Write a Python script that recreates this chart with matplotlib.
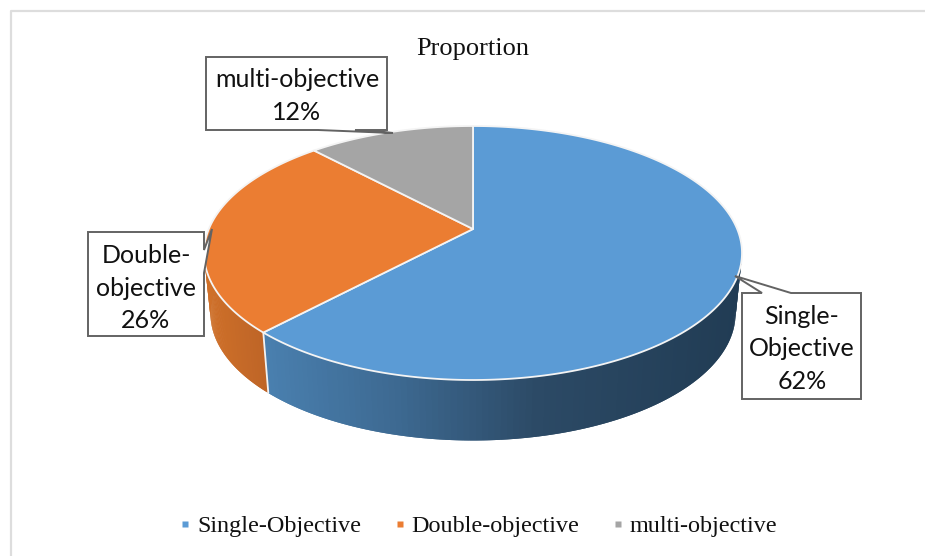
import numpy as np
import matplotlib
matplotlib.use("Agg")
import matplotlib.pyplot as plt
from matplotlib.lines import Line2D
from matplotlib.patches import Polygon
from matplotlib.colors import to_rgb

categories = ["Single-Objective", "Double-objective", "multi-objective"]
values = [62, 26, 12]
callout_text = ["Single-\nObjective\n62%", "Double-\nobjective\n26%", "multi-objective\n12%"]
title = "Proportion"
colors = ["#5B9BD5", "#EB7D32", "#A5A5A5"]
wall_stops = [
    ([263, 400, 540, 742], ["#4A80B0", "#3D6991", "#2C4A66", "#213C54"]),
    ([205, 268], ["#CF7029", "#BD6427"]),
    ([315, 473], ["#8A8A8A", "#8A8A8A"]),
]

W, H = 925, 556
fig = plt.figure(figsize=(W / 100, H / 100), dpi=100)
ax = fig.add_axes([0, 0, 1, 1])
ax.set_xlim(0, W)
ax.set_ylim(H, 0)
ax.axis("off")

ax.plot([10.5, 10.5, W], [H, 11, 11], color="#DDDDDD", lw=1.6, zorder=0)

# projection of a tilted disc
CX, CY = 473, 229
K = 48 / 254
AY = 103 * (1 + K)
CW = 269 * np.sqrt(1 - K ** 2)
DEPTH = 60.5
SHRINK = 0.976


def top(theta):
    u, v = np.sin(theta), np.cos(theta)
    d = 1 + K * v
    return CX + CW * u / d, CY - AY * v / d


def bottom(theta):
    x, y = top(theta)
    return CX + (x - CX) * SHRINK, y + DEPTH


fractions = np.array(values) / sum(values)
edges = np.concatenate([[0], np.cumsum(fractions)]) * 2 * np.pi

# side walls: overlapping quads, so that no seams show
for i in range(len(values)):
    th = np.linspace(edges[i], edges[i + 1], 200)
    th = th[np.cos(th) < 0.35]
    if len(th) < 3:
        continue
    stops, cols = wall_stops[i]
    rgb = np.array([to_rgb(c) for c in cols])
    for j in range(len(th) - 1):
        seg = th[j:j + 3]
        xt, yt = top(seg)
        xb, yb = bottom(seg)
        col = [np.interp(xt[0], stops, rgb[:, k]) for k in range(3)]
        pts = np.column_stack([np.r_[xt, xb[::-1]], np.r_[yt, yb[::-1]]])
        ax.add_patch(Polygon(pts, closed=True, fc=col, ec="none", zorder=1))

# seam between the orange and blue walls
sx, sy = top(edges[1])
bx, by = bottom(edges[1])
ax.plot([sx, bx], [sy, by], color="#F2F2F2", lw=1.3, zorder=2, solid_capstyle="round")

# top faces
for i in range(len(values)):
    th = np.linspace(edges[i], edges[i + 1], 300)
    xs, ys = top(th)
    pts = np.column_stack([np.r_[CX, xs], np.r_[CY, ys]])
    ax.add_patch(Polygon(pts, closed=True, fc=colors[i], ec="#F4F4F4", lw=1.3,
                         joinstyle="round", zorder=3))

# callouts: outline running through the pointer, and the centre of the text
outlines = [
    [(742, 293), (762, 293), (735, 276), (791, 293), (861, 293), (861, 399), (742, 399)],
    [(88, 232), (204, 232), (204, 250), (212, 229), (204, 273), (204, 336), (88, 336)],
    [(206, 57), (387, 57), (387, 130), (355, 130), (393, 133), (318, 130), (206, 130)],
]
text_centres = [(802, 349), (146, 288), (297, 96)]
for txt, outline, (tx, ty) in zip(callout_text, outlines, text_centres):
    ax.add_patch(Polygon(outline, closed=True, fc="white", ec="#636363", lw=1.4,
                         joinstyle="miter", zorder=4))
    ax.text(tx, ty, txt, ha="center", va="center", zorder=7, family="Lato",
            fontsize=18, color="#111111", linespacing=1.5)

ax.text(473, 49.5, title, ha="center", va="center", family="Liberation Serif",
        fontsize=19, color="#111111")

handles = [Line2D([], [], ls="none", marker="s", ms=5, mfc=c, mec="none") for c in colors]
leg = ax.legend(handles, categories, ncols=3, loc="center", bbox_to_anchor=(479.5, 526),
                bbox_transform=ax.transData, frameon=False,
                prop={"family": "Liberation Serif", "size": 17.4},
                handlelength=0.3, handletextpad=0.33, columnspacing=1.45, borderpad=0)
for t in leg.get_texts():
    t.set_color("#111111")

fig.savefig("out.png", dpi=100)
